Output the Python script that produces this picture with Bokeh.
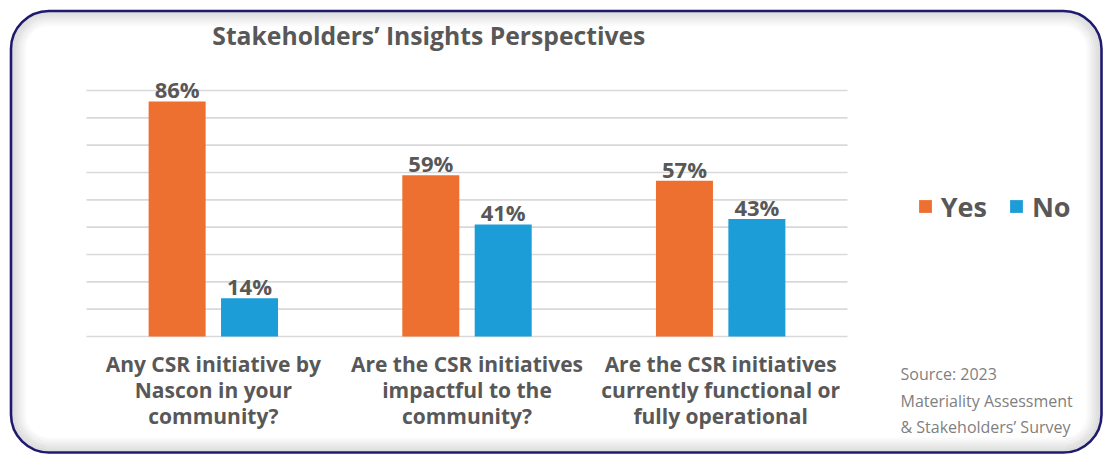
from bokeh.plotting import figure
from bokeh.models import Range1d, BoxAnnotation, Legend, LegendItem, Label, ColumnDataSource
from bokeh.core.properties import value
from bokeh.embed import file_html
from bokeh.resources import INLINE

# ---------------- data ----------------
question_lines = [
    ["Any CSR initiative by", "Nascon in your", "community?"],
    ["Are the CSR initiatives", "impactful to the", "community?"],
    ["Are the CSR initiatives", "currently functional or", "fully operational"],
]
yes_values = [86, 59, 57]
no_values = [14, 41, 43]
series_names = ["Yes", "No"]
y_ticks = [0, 10, 20, 30, 40, 50, 60, 70, 80, 90]
title_text = "Stakeholders\u2019 Insights Perspectives"
source_lines = ["Source: 2023", "Materiality Assessment", "& Stakeholders\u2019 Survey"]

# ---------------- layout ----------------
W, H = 1106, 455
PL, PR, PT, PB = 86, 847, 90, 336      # plot region in pixels
n = len(question_lines)
ymax = y_ticks[-1]
xs = (PR - PL) / n
ys = (PB - PT) / ymax
SHIFT = 0.39   # baseline correction (em)

def X(px):
    return (px - PL) / xs

def Y(py):
    return (PB - py) / ys

ORANGE = "#ED7031"
BLUE = "#1C9DD8"
TEXT = "#585858"
FONT = "Open Sans"

p = figure(width=W, height=H,
           x_range=Range1d(X(0), X(W)), y_range=Range1d(Y(H), Y(0)),
           x_axis_type=None, y_axis_type=None,
           toolbar_location=None, output_backend="svg",
           min_border=0, outline_line_color=None,
           background_fill_color="white", border_fill_color="white")

# frame border with soft inner shadow
L, R, T, B = 10.5, 1101, 10.5, 452
for k in range(7, 0, -1):
    inset = 2 * k
    p.add_layout(BoxAnnotation(left=X(L + inset), right=X(R - inset),
                               top=Y(T + inset), bottom=Y(B - inset),
                               fill_color=None, fill_alpha=0, line_color="black",
                               line_alpha=0.13 * (1 - (k - 1) / 7.0), line_width=2.2,
                               border_radius=max(38 - inset, 4)))
p.add_layout(BoxAnnotation(left=X(L), right=X(R), top=Y(T), bottom=Y(B),
                           fill_color=None, fill_alpha=0, line_color="#1E1B6E",
                           line_alpha=1.0, line_width=2.6, border_radius=38))

# gridlines
p.segment(x0=[0] * len(y_ticks), x1=[n] * len(y_ticks), y0=y_ticks, y1=y_ticks,
          line_color="#D9D9D9", line_width=1.6)

# bars
centers = [i + 0.5 for i in range(n)]
off = 0.1427
bw = 0.2247
src = ColumnDataSource(dict(
    xy=[c - off for c in centers], xn=[c + off for c in centers],
    yes=yes_values, no=no_values,
    ly=[f"{v}%" for v in yes_values], ln=[f"{v}%" for v in no_values]))
r_yes = p.vbar(x="xy", top="yes", width=bw, bottom=0, source=src,
               fill_color=ORANGE, line_color=None)
r_no = p.vbar(x="xn", top="no", width=bw, bottom=0, source=src,
              fill_color=BLUE, line_color=None)

# value labels
for xk, yk, tk in (("xy", "yes", "ly"), ("xn", "no", "ln")):
    p.text(x=xk, y=yk, text=tk, source=src, y_offset=-3.6 - SHIFT * 22,
           text_align="center", text_baseline="alphabetic",
           text_font=value(FONT), text_font_style="bold",
           text_font_size="22px", text_color=TEXT)

# category labels
cx, cy, ct = [], [], []
for i, lines in enumerate(question_lines):
    for j, t in enumerate(lines):
        cx.append(centers[i])
        cy.append(Y(371.7 - SHIFT * 21 + 26 * j))
        ct.append(t)
p.text(x=cx, y=cy, text=ct, text_align="center", text_baseline="alphabetic",
       text_font=value(FONT), text_font_style="bold", text_font_size="21px",
       text_color=TEXT)

# title
p.add_layout(Label(x=X(428.3), y=Y(44.3 - SHIFT * 24.7), text=title_text, text_align="center",
                   text_baseline="alphabetic", text_font=FONT, text_font_style="bold",
                   text_font_size="24.7px", text_color=TEXT))

# source note
p.text(x=[X(900)] * len(source_lines),
       y=[Y(380 - SHIFT * 16 + 26.5 * j) for j in range(len(source_lines))],
       text=source_lines, text_align="left", text_baseline="alphabetic",
       text_font=value(FONT), text_font_size="16px", text_color="#7F7F7F")

# legend
legend = Legend(items=[LegendItem(label=series_names[0], renderers=[r_yes]),
                       LegendItem(label=series_names[1], renderers=[r_no])],
                orientation="horizontal", location=(916.7, 230.3),
                glyph_width=16, glyph_height=16, label_standoff=8, spacing=21,
                padding=0, margin=0, border_line_color=None,
                background_fill_alpha=0,
                label_text_font=FONT, label_text_font_style="bold",
                label_text_font_size="27px", label_text_color=TEXT)
p.add_layout(legend)

open("out.html", "w").write(file_html(p, INLINE))
